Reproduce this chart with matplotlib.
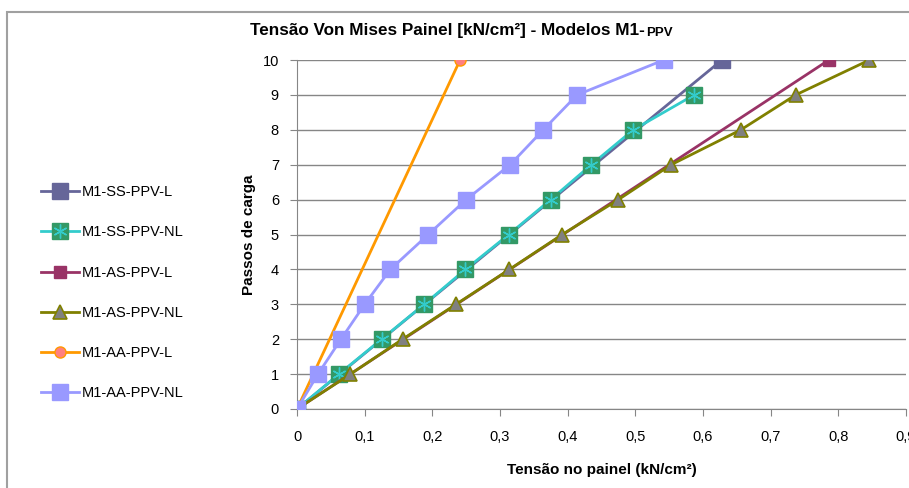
import numpy as np
import matplotlib.pyplot as plt
from matplotlib.patches import Rectangle
from matplotlib.ticker import FuncFormatter, MultipleLocator

plt.rcParams['font.family'] = ['Liberation Sans', 'DejaVu Sans']

# passos de carga
passos = list(range(0, 11))

# modelos lineares: apenas o ponto inicial e o final
ss_l_x = [0, 0.628]
ss_l_y = [0, 10]
as_l_x = [0, 0.786]
as_l_y = [0, 10]
aa_l_x = [0, 0.241]
aa_l_y = [0, 10]

# modelos nao lineares
ss_nl_x = [0, 0.062, 0.125, 0.188, 0.249, 0.313, 0.375, 0.435, 0.497, 0.587]
ss_nl_y = passos[:10]
as_nl_x = [0, 0.079, 0.156, 0.235, 0.314, 0.392, 0.475, 0.553, 0.656, 0.737, 0.846]
as_nl_y = passos
aa_nl_x = [0, 0.031, 0.065, 0.100, 0.138, 0.194, 0.250, 0.315, 0.364, 0.414, 0.542]
aa_nl_y = passos

fig = plt.figure(figsize=(9.09, 4.88), dpi=100)
ax = fig.add_axes([297/909, 1 - 409/488, 609/909, 349/488])

# moldura do grafico
fig.patches.append(Rectangle((7/909, -0.1), 1.2, 1 - 12/488 + 0.1, transform=fig.transFigure,
                             fill=False, edgecolor='#A0A0A0', lw=1.5, zorder=0))

h1, = ax.plot(ss_l_x, ss_l_y, color='#666699', lw=2, marker='s', ms=11,
              mfc='#666699', mec='#666699', zorder=3)
h2a, = ax.plot(ss_nl_x, ss_nl_y, color='#33CCCC', lw=2, marker='s', ms=11,
               mfc='#339966', mec='#339966', zorder=4)
h2b, = ax.plot(ss_nl_x, ss_nl_y, ls='none', marker=(6, 2, 0), ms=10,
               mec='#33CCCC', mew=1, zorder=4)
h3, = ax.plot(as_l_x, as_l_y, color='#993366', lw=2, marker='s', ms=8,
              mfc='#993366', mec='#993366', zorder=5)
h4, = ax.plot(as_nl_x, as_nl_y, color='#808000', lw=2, marker='^', ms=10,
              mfc='#808080', mec='#808000', mew=1.2, zorder=6)
h5, = ax.plot(aa_l_x, aa_l_y, color='#FF9900', lw=2, marker='o', ms=8,
              mfc='#FF8080', mec='#FF9900', zorder=7)
h6, = ax.plot(aa_nl_x, aa_nl_y, color='#9999FF', lw=2, marker='s', ms=12,
              mfc='#9999FF', mec='#9999FF', zorder=8)

ax.set_xlim(0, 0.9)
ax.set_ylim(0, 10)
ax.xaxis.set_major_locator(MultipleLocator(0.1))
ax.yaxis.set_major_locator(MultipleLocator(1))
ax.xaxis.set_major_formatter(FuncFormatter(lambda v, p: ('%g' % round(v, 2)).replace('.', ',')))
ax.grid(axis='y', color='#868686', lw=1)
ax.set_axisbelow(True)
for s in ['top', 'right']:
    ax.spines[s].set_visible(False)
for s in ['left', 'bottom']:
    ax.spines[s].set_color('#868686')
ax.tick_params(axis='both', colors='#868686', labelcolor='black', labelsize=10.5, length=5)
ax.tick_params(axis='x', pad=10)
ax.tick_params(axis='y', pad=8)

ax.set_xlabel('Tensão no painel (kN/cm²)', fontsize=11, fontweight='bold', labelpad=14)
ax.set_ylabel('Passos de carga', fontsize=11, fontweight='bold', labelpad=5)

# titulo com o sufixo PPV em letra menor
t1 = fig.text(250/909, 1 - 35/488, 'Tensão Von Mises Painel [kN/cm²] - Modelos M1-',
              fontsize=12.3, fontweight='bold', va='baseline', ha='left')
fig.canvas.draw()
bb = t1.get_window_extent()
fig.text(bb.x1/909 + 1/909, 1 - 36/488, 'PPV', fontsize=9.5, fontweight='bold',
         va='baseline', ha='left')

labels = ['M1-SS-PPV-L', 'M1-SS-PPV-NL', 'M1-AS-PPV-L', 'M1-AS-PPV-NL', 'M1-AA-PPV-L', 'M1-AA-PPV-NL']
fig.legend([h1, (h2a, h2b), h3, h4, h5, h6], labels, loc='upper left',
           bbox_to_anchor=(28/909, 1 - 172/488), frameon=False, fontsize=10.5,
           handlelength=2.6, handletextpad=0.2, labelspacing=1.8)

fig.savefig('out.png', dpi=100)
plt.close()
